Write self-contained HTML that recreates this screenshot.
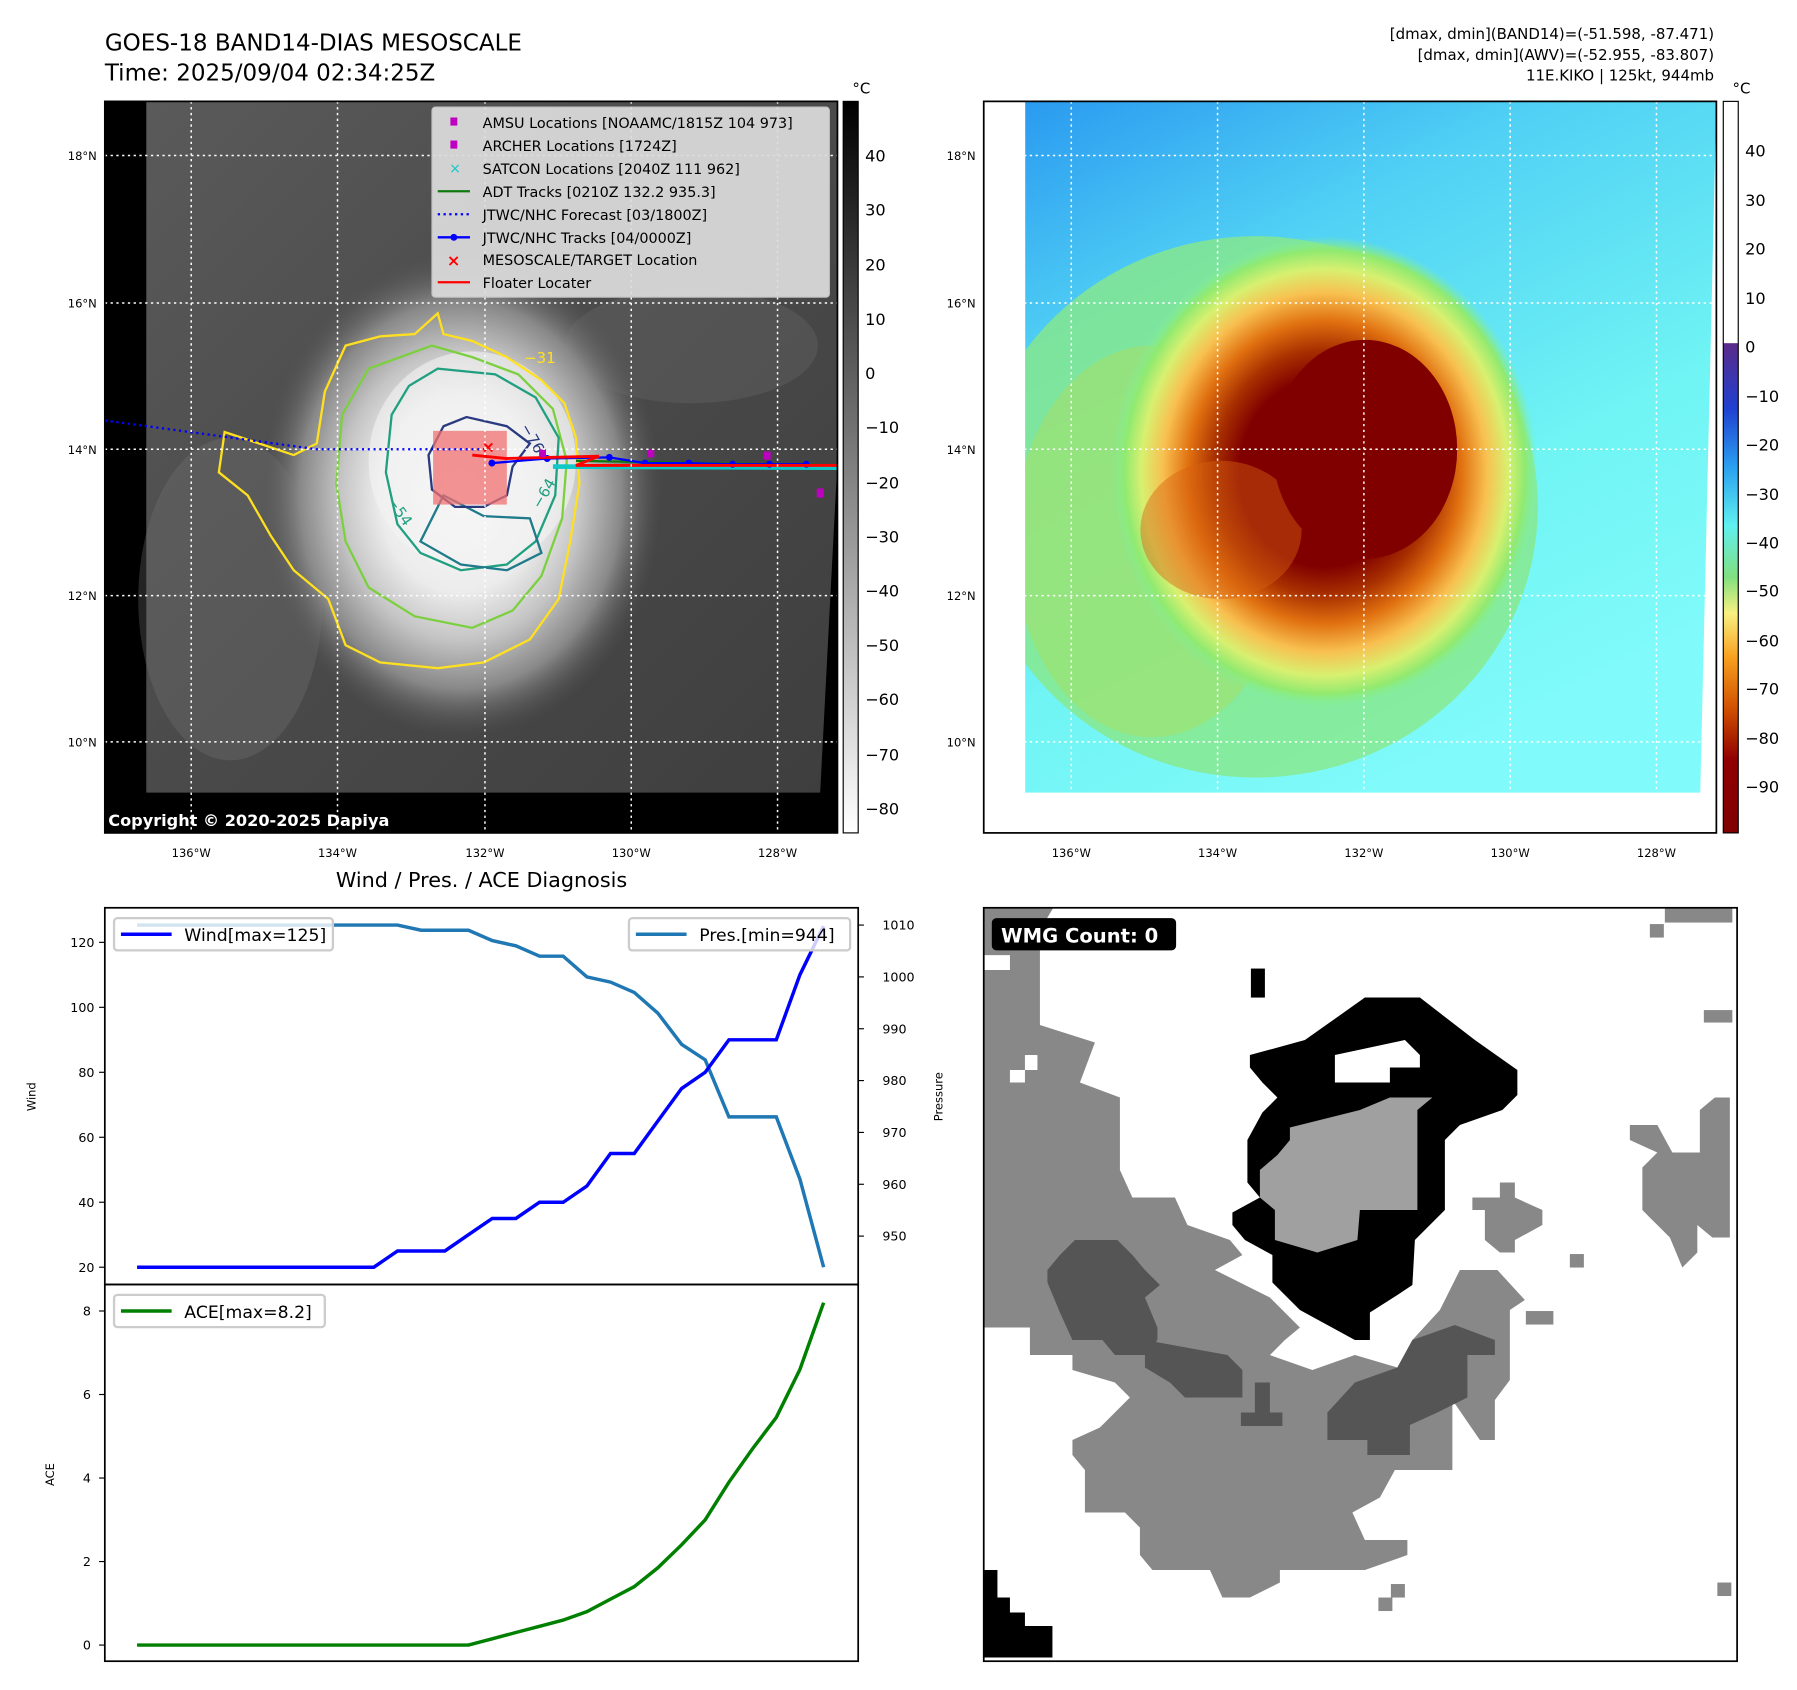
<!DOCTYPE html>
<html><head><meta charset="utf-8"><style>
html,body{margin:0;padding:0;background:#fff;width:1797px;height:1690px;overflow:hidden}
svg{display:block;font-family:"DejaVu Sans","Liberation Sans",sans-serif}
</style></head><body>
<svg id="fig" width="1797" height="1690" viewBox="0 0 1560 1467" preserveAspectRatio="none" xmlns="http://www.w3.org/2000/svg">
<defs>
<clipPath id="wmgclip"><rect x="854" y="788" width="654" height="654"/></clipPath>
<radialGradient id="ir" cx="0.5" cy="0.5" r="0.5">
<stop offset="0" stop-color="#fafafa"/><stop offset="0.4" stop-color="#ececec"/><stop offset="0.6" stop-color="#c4c4c4"/><stop offset="0.8" stop-color="#888"/><stop offset="1" stop-color="#555" stop-opacity="0"/>
</radialGradient>
<linearGradient id="irbg" x1="0" y1="0" x2="1" y2="1">
<stop offset="0" stop-color="#5a5a5a"/><stop offset="0.5" stop-color="#4a4a4a"/><stop offset="1" stop-color="#3e3e3e"/>
</linearGradient>
<linearGradient id="cbL" x1="0" y1="0" x2="0" y2="1"><stop offset="0" stop-color="#000"/><stop offset="1" stop-color="#fff"/></linearGradient>
<linearGradient id="cbR" x1="0" y1="0" x2="0" y2="1">
<stop offset="0" stop-color="#fff"/><stop offset="0.33" stop-color="#fff"/><stop offset="0.331" stop-color="#5a2a8a"/><stop offset="0.42" stop-color="#2040d0"/><stop offset="0.5" stop-color="#2aa0f0"/><stop offset="0.58" stop-color="#60f0f0"/><stop offset="0.65" stop-color="#80e080"/><stop offset="0.7" stop-color="#f8f080"/><stop offset="0.76" stop-color="#f8a020"/><stop offset="0.83" stop-color="#d05000"/><stop offset="0.9" stop-color="#900000"/><stop offset="1" stop-color="#800000"/>
</linearGradient>
<linearGradient id="awbg" x1="0" y1="0" x2="0.5" y2="1">
<stop offset="0" stop-color="#2a9af0"/><stop offset="0.3" stop-color="#50d0f4"/><stop offset="0.7" stop-color="#70f4f4"/><stop offset="1" stop-color="#80fafa"/>
</linearGradient>
<radialGradient id="aw" cx="0.5" cy="0.5" r="0.5">
<stop offset="0" stop-color="#800000"/><stop offset="0.4" stop-color="#800000"/><stop offset="0.52" stop-color="#a83000"/><stop offset="0.64" stop-color="#e07010"/><stop offset="0.76" stop-color="#f8c050"/><stop offset="0.86" stop-color="#d8f070"/><stop offset="0.94" stop-color="#90ea70"/><stop offset="1" stop-color="#80f0a0" stop-opacity="0"/>
</radialGradient>
</defs>

<text x="91" y="44" font-size="20">GOES-18 BAND14-DIAS MESOSCALE</text>
<text x="91" y="70" font-size="20">Time: 2025/09/04 02:34:25Z</text>
<g font-size="13" text-anchor="end">
<text x="1488" y="34">[dmax, dmin](BAND14)=(-51.598, -87.471)</text>
<text x="1488" y="52">[dmax, dmin](AWV)=(-52.955, -83.807)</text>
<text x="1488" y="70">11E.KIKO | 125kt, 944mb</text>
</g>

<g>
<rect x="91" y="88" width="636" height="635" fill="#000"/>
<polygon points="127,88 727,88 727,400 712,688 127,688" fill="url(#irbg)"/>
<ellipse cx="200" cy="520" rx="80" ry="140" fill="#777" opacity="0.3"/>
<ellipse cx="600" cy="300" rx="110" ry="50" fill="#6a6a6a" opacity="0.35"/>
<ellipse cx="400" cy="430" rx="175" ry="210" fill="url(#ir)"/>
<ellipse cx="410" cy="400" rx="90" ry="95" fill="#f4f4f4" opacity="0.6"/>
<g fill="none" stroke-width="2">
<path stroke="#ffe020" d="M380,272 L385,290 410,296 440,310 470,330 490,350 500,380 503,420 495,470 485,520 460,555 420,575 380,580 330,575 300,560 285,520 255,495 235,465 215,430 190,410 195,375 225,385 255,395 275,385 282,340 300,300 330,292 360,290 Z"/>
<path stroke="#7cd040" d="M375,300 L410,310 450,325 480,355 492,400 488,450 470,500 445,530 410,545 360,535 320,510 300,470 292,420 297,360 320,320 Z"/>
<path stroke="#20a080" d="M380,320 L430,325 465,345 485,380 482,430 465,470 440,490 400,495 365,480 345,455 335,410 340,360 355,335 Z"/>
<path stroke="#1f7a8a" d="M385,430 L420,448 460,450 470,480 440,495 400,490 365,470 Z"/>
<path stroke="#2a3a80" d="M385,370 L405,362 440,370 460,385 445,405 440,430 420,440 395,440 375,425 372,395 Z"/>
</g>
<g fill="#20a080" font-size="13">
<text x="455" y="315" fill="#ffe020">−31</text><text x="335" y="440" transform="rotate(55 340 438)">−54</text><text x="463" y="440" transform="rotate(-60 468 436)">−64</text><text x="452" y="378" fill="#2a3a80" transform="rotate(60 458 374)">−76</text>
</g>
<rect x="376" y="374" width="64" height="64" fill="#f07070" opacity="0.75"/>
<polyline points="91,365 275,390 420,390" fill="none" stroke="#0000ff" stroke-width="2" stroke-dasharray="2,3"/>
<line x1="480" y1="405" x2="727" y2="406" stroke="#10c8c8" stroke-width="4"/>
<line x1="500" y1="400" x2="727" y2="404" stroke="#107a10" stroke-width="2"/>
<polyline points="427,402 475,398 529,397 560,402 598,402 636,403 668,403 700,403" fill="none" stroke="#0000ff" stroke-width="2"/>
<g fill="#0000ff"><circle cx="427" cy="402" r="3"/><circle cx="475" cy="398" r="3"/><circle cx="529" cy="397" r="3"/><circle cx="560" cy="402" r="3"/><circle cx="598" cy="402" r="3"/><circle cx="636" cy="403" r="3"/><circle cx="668" cy="403" r="3"/><circle cx="700" cy="403" r="3"/></g>
<polyline points="410,395 440,398 520,396 500,404 727,404" fill="none" stroke="#ff0000" stroke-width="2.5"/>
<g fill="#c000c0"><rect x="468" y="390" width="6" height="7"/><rect x="562" y="390" width="6" height="7"/><rect x="663" y="392" width="6" height="7"/><rect x="709" y="424" width="6" height="8"/></g>
<text x="418" y="393" fill="#ff0000" font-size="14" font-weight="bold">×</text>
<g stroke="#fff" stroke-width="1.3" stroke-dasharray="2,3">
<line x1="91" y1="135" x2="727" y2="135"/><line x1="91" y1="263" x2="727" y2="263"/><line x1="91" y1="390" x2="727" y2="390"/><line x1="91" y1="517" x2="727" y2="517"/><line x1="91" y1="644" x2="727" y2="644"/>
<line x1="166" y1="88" x2="166" y2="723"/><line x1="293" y1="88" x2="293" y2="723"/><line x1="421" y1="88" x2="421" y2="723"/><line x1="548" y1="88" x2="548" y2="723"/><line x1="675" y1="88" x2="675" y2="723"/>
</g>
<text x="94" y="717" fill="#fff" font-size="14" font-weight="bold">Copyright © 2020-2025 Dapiya</text>
<rect x="91" y="88" width="636" height="635" fill="none" stroke="#000" stroke-width="1.5"/>
</g>
<g font-size="12.5">
<rect x="375" y="93" width="345" height="165" rx="3" fill="#ddd" opacity="0.92" stroke="#ccc"/>
<rect x="391" y="102" width="6" height="7" fill="#c000c0"/><text x="419" y="111">AMSU Locations [NOAAMC/1815Z 104 973]</text>
<rect x="391" y="122" width="6" height="7" fill="#c000c0"/><text x="419" y="131">ARCHER Locations [1724Z]</text>
<text x="390" y="150" fill="#10c8c8" font-size="12">×</text><text x="419" y="151">SATCON Locations [2040Z 111 962]</text>
<line x1="380" y1="166" x2="408" y2="166" stroke="#107a10" stroke-width="2"/><text x="419" y="171">ADT Tracks [0210Z 132.2 935.3]</text>
<line x1="380" y1="186" x2="408" y2="186" stroke="#0000ff" stroke-width="2" stroke-dasharray="2,3"/><text x="419" y="191">JTWC/NHC Forecast [03/1800Z]</text>
<line x1="380" y1="206" x2="408" y2="206" stroke="#0000ff" stroke-width="2"/><circle cx="394" cy="206" r="3" fill="#0000ff"/><text x="419" y="211">JTWC/NHC Tracks [04/0000Z]</text>
<text x="388" y="231" fill="#ff0000" font-size="14" font-weight="bold">×</text><text x="419" y="230">MESOSCALE/TARGET Location</text>
<line x1="380" y1="245" x2="408" y2="245" stroke="#ff0000" stroke-width="2"/><text x="419" y="250">Floater Locater</text>
</g>
<g font-size="10" text-anchor="end">
<text x="84" y="139">18°N</text><text x="84" y="267">16°N</text><text x="84" y="394">14°N</text><text x="84" y="521">12°N</text><text x="84" y="648">10°N</text>
</g>
<g font-size="10" text-anchor="middle">
<text x="166" y="744">136°W</text><text x="293" y="744">134°W</text><text x="421" y="744">132°W</text><text x="548" y="744">130°W</text><text x="675" y="744">128°W</text>
</g>
<g>
<rect x="732" y="88" width="13" height="635" fill="url(#cbL)" stroke="#000"/>
<text x="740" y="81" font-size="13">°C</text>
<g font-size="14"><text x="751" y="140">40</text><text x="751" y="187">30</text><text x="751" y="235">20</text><text x="751" y="282">10</text><text x="751" y="329">0</text><text x="751" y="376">−10</text><text x="751" y="424">−20</text><text x="751" y="471">−30</text><text x="751" y="518">−40</text><text x="751" y="565">−50</text><text x="751" y="612">−60</text><text x="751" y="660">−70</text><text x="751" y="707">−80</text></g>
</g>

<g>
<rect x="854" y="88" width="636" height="635" fill="#fff"/>
<polygon points="890,88 1490,88 1476,688 890,688" fill="url(#awbg)"/>
<clipPath id="awclip"><polygon points="890,88 1490,88 1476,688 890,688"/></clipPath>
<g clip-path="url(#awclip)">
<ellipse cx="1090" cy="440" rx="245" ry="235" fill="#88e888" opacity="0.8"/>
<ellipse cx="1000" cy="470" rx="120" ry="170" fill="#a8e060" opacity="0.5"/>
<ellipse cx="1150" cy="410" rx="185" ry="205" fill="url(#aw)"/>
<ellipse cx="1060" cy="460" rx="70" ry="60" fill="#d86010" opacity="0.45"/>
<ellipse cx="1185" cy="390" rx="80" ry="95" fill="#800000"/>
</g>
<g stroke="#fff" stroke-width="1.3" stroke-dasharray="2,3">
<line x1="854" y1="135" x2="1490" y2="135"/><line x1="854" y1="263" x2="1490" y2="263"/><line x1="854" y1="390" x2="1490" y2="390"/><line x1="854" y1="517" x2="1490" y2="517"/><line x1="854" y1="644" x2="1490" y2="644"/>
<line x1="930" y1="88" x2="930" y2="723"/><line x1="1057" y1="88" x2="1057" y2="723"/><line x1="1184" y1="88" x2="1184" y2="723"/><line x1="1311" y1="88" x2="1311" y2="723"/><line x1="1438" y1="88" x2="1438" y2="723"/>
</g>
<rect x="854" y="88" width="636" height="635" fill="none" stroke="#000" stroke-width="1.5"/>
</g>
<g font-size="10" text-anchor="end">
<text x="847" y="139">18°N</text><text x="847" y="267">16°N</text><text x="847" y="394">14°N</text><text x="847" y="521">12°N</text><text x="847" y="648">10°N</text>
</g>
<g font-size="10" text-anchor="middle">
<text x="930" y="744">136°W</text><text x="1057" y="744">134°W</text><text x="1184" y="744">132°W</text><text x="1311" y="744">130°W</text><text x="1438" y="744">128°W</text>
</g>
<g>
<rect x="1496" y="88" width="13" height="635" fill="url(#cbR)" stroke="#000"/>
<text x="1504" y="81" font-size="13">°C</text>
<g font-size="14"><text x="1515" y="136">40</text><text x="1515" y="179">30</text><text x="1515" y="221">20</text><text x="1515" y="264">10</text><text x="1515" y="306">0</text><text x="1515" y="349">−10</text><text x="1515" y="391">−20</text><text x="1515" y="434">−30</text><text x="1515" y="476">−40</text><text x="1515" y="518">−50</text><text x="1515" y="561">−60</text><text x="1515" y="603">−70</text><text x="1515" y="646">−80</text><text x="1515" y="688">−90</text></g>
</g>

<g>
<rect x="854" y="788" width="654" height="654" fill="#fff"/>
<g clip-path="url(#wmgclip)">
<g transform="translate(850.7,781.3) scale(0.434)">
<polygon fill="#888" points="0,10 150,10 120,60 120,250 230,285 200,365 280,395 280,540 305,595 390,595 415,650 500,680 525,710 470,740 580,795 640,855 610,880 580,910 665,940 750,910 835,935 865,880 920,820 960,740 1035,740 1090,800 1060,820 1060,960 1030,1000 1030,1080 1000,1080 945,1000 945,1140 830,1140 800,1195 745,1225 770,1280 855,1280 855,1310 770,1340 600,1340 600,1365 540,1395 485,1395 460,1340 345,1340 320,1310 320,1255 290,1225 210,1225 210,1140 185,1110 185,1080 240,1055 300,995 270,965 185,940 185,910 100,910 100,855 0,855"/>
<polygon fill="#fff" points="5,110 60,110 60,140 5,140"/><polygon fill="#fff" points="60,340 115,340 115,310 90,310 90,365 60,365"/>
<polygon fill="#555" points="160,710 190,680 275,680 305,710 330,740 360,770 330,795 355,855 355,880 330,910 270,910 245,880 185,880 160,825 135,765 135,740"/>
<polygon fill="#555" points="330,880 495,910 525,940 525,995 410,995 380,965 330,935"/>
<polygon fill="#555" points="695,1025 750,965 835,935 865,880 950,850 1030,880 1030,910 975,910 975,995 915,1025 860,1050 860,1110 775,1110 775,1080 695,1080"/>
<polygon fill="#555" points="550,965 580,965 580,1025 605,1025 605,1052 522,1052 522,1025 550,1025"/>
<polygon fill="#888" points="1300,450 1355,450 1385,505 1440,505 1440,420 1470,395 1500,395 1500,675 1465,675 1435,650 1435,705 1405,735 1380,675 1355,650 1325,620 1325,535 1355,505 1300,480"/>
<polygon fill="#888" points="985,595 1040,595 1040,565 1070,565 1070,595 1125,620 1125,650 1070,680 1070,705 1040,705 1010,680 1010,620 985,620"/>
<rect fill="#888" x="1370" y="10" width="135" height="35"/><rect fill="#888" x="1340" y="48" width="28" height="27"/><rect fill="#888" x="1448" y="220" width="57" height="25"/><rect fill="#888" x="1475" y="1365" width="28" height="27"/><rect fill="#888" x="1180" y="708" width="28" height="27"/><rect fill="#888" x="1092" y="822" width="55" height="27"/><rect fill="#888" x="822" y="1368" width="28" height="27"/><rect fill="#888" x="797" y="1395" width="28" height="27"/>
<polygon fill="#000" points="540,310 650,280 770,195 880,195 990,280 1075,340 1075,390 1045,420 960,450 930,480 930,620 900,650 870,680 865,770 835,790 780,825 780,880 750,880 695,850 640,820 610,790 585,765 585,710 530,680 505,650 505,625 560,595 535,565 535,480 565,425 595,395 565,365 540,335"/>
<polygon fill="#fff" points="710,310 850,280 880,310 880,335 820,335 820,365 710,365"/>
<polygon fill="#a0a0a0" points="620,455 760,420 820,395 905,395 875,420 875,620 760,620 755,680 675,705 590,680 590,620 560,595 560,540 595,510 620,480"/>
<rect fill="#000" x="542" y="137" width="28" height="58"/>
<polygon fill="#000" points="0,1340 35,1340 35,1395 60,1395 60,1425 90,1425 90,1452 145,1452 145,1515 0,1515"/>
</g>
</g>
<rect x="854" y="788" width="654" height="654" fill="none" stroke="#000" stroke-width="1.5"/>
<rect x="861" y="797" width="160" height="28" rx="4" fill="#000"/>
<text x="869" y="818" fill="#fff" font-size="17" font-weight="bold">WMG Count: 0</text>
</g>

<text x="418" y="770" font-size="18" text-anchor="middle">Wind / Pres. / ACE Diagnosis</text>
<g id="diag"></g>
</svg>
<script>
const windValues=[20,20,20,20,20,20,20,20,20,20,20,25,25,25,30,35,35,40,40,45,55,55,65,75,80,90,90,90,110,125];
const presValues=[1010,1010,1010,1010,1010,1010,1010,1010,1010,1010,1010,1010,1009,1009,1009,1007,1006,1004,1004,1000,999,997,993,987,984,973,973,973,961,944];
const aceValues=[0,0,0,0,0,0,0,0,0,0,0,0,0,0,0,0.15,0.3,0.45,0.6,0.8,1.1,1.4,1.85,2.4,3.0,3.9,4.7,5.45,6.6,8.2];
const windTicks=[20,40,60,80,100,120];
const presTicks=[950,960,970,980,990,1000,1010];
const aceTicks=[0,2,4,6,8];

const NS='http://www.w3.org/2000/svg';
const g=document.getElementById('diag');
function mk(tag,attrs,parent){const e=document.createElementNS(NS,tag);for(const k in attrs)e.setAttribute(k,attrs[k]);(parent||g).appendChild(e);return e;}
const X0=119,X1=715;
const xS=i=>X0+i*(X1-X0)/(windValues.length-1);
const yW=v=>1100-(v-20)*2.82;
const yP=p=>803+(1010-p)*4.5;
const yA=a=>1428-a*36.25;

const f1=mk('rect',{x:91,y:788,width:654,height:327,fill:'none',stroke:'#000','stroke-width':1.5});


const f2=mk('rect',{x:91,y:1115,width:654,height:327,fill:'none',stroke:'#000','stroke-width':1.5});



windTicks.forEach(t=>{const y=yW(t);mk('line',{x1:86,y1:y,x2:91,y2:y,stroke:'#000'});
 const tx=mk('text',{x:82,y:y+4,'font-size':11,'text-anchor':'end'});tx.textContent=t;
 
 });
presTicks.forEach(t=>{const y=yP(t);mk('line',{x1:745,y1:y,x2:750,y2:y,stroke:'#000'});
 const tx=mk('text',{x:766,y:y+4,'font-size':11});tx.textContent=t;
 
 });
aceTicks.forEach(t=>{const y=yA(t);mk('line',{x1:86,y1:y,x2:91,y2:y,stroke:'#000'});
 const tx=mk('text',{x:79,y:y+4,'font-size':11,'text-anchor':'end'});tx.textContent=t;
 
 });

let t=mk('text',{x:31,y:952,'font-size':10,'text-anchor':'middle',transform:'rotate(-90 31 952)'});t.textContent='Wind';


t=mk('text',{x:818,y:952,'font-size':10,'text-anchor':'middle',transform:'rotate(-90 818 952)'});t.textContent='Pressure';


t=mk('text',{x:47,y:1280,'font-size':10,'text-anchor':'middle',transform:'rotate(-90 47 1280)'});t.textContent='ACE';



const pts=(arr,fy)=>arr.map((v,i)=>xS(i).toFixed(1)+','+fy(v).toFixed(1)).join(' ');
let l=mk('polyline',{points:pts(presValues,yP),fill:'none',stroke:'#1f77b4','stroke-width':3});


l=mk('polyline',{points:pts(windValues,yW),fill:'none',stroke:'#0000ff','stroke-width':3});


l=mk('polyline',{points:pts(aceValues,yA),fill:'none',stroke:'#008000','stroke-width':3});



function legend(x,y,w,color,label,name){
 const lg=mk('g',{});
 
 
 mk('rect',{x:x,y:y,width:w,height:28,rx:3,fill:'#fff','fill-opacity':0.8,stroke:'#ccc','stroke-width':2},lg);
 mk('line',{x1:x+6,y1:y+14,x2:x+50,y2:y+14,stroke:color,'stroke-width':3},lg);
 const tx=mk('text',{x:x+61,y:y+20,'font-size':15},lg);tx.textContent=label;
}
legend(99,797,190,'#0000ff','Wind[max=125]','wind-legend');
legend(546,797,192,'#1f77b4','Pres.[min=944]','pressure-legend');
legend(99,1124,183,'#008000','ACE[max=8.2]','ace-legend');
</script>
</body></html>
